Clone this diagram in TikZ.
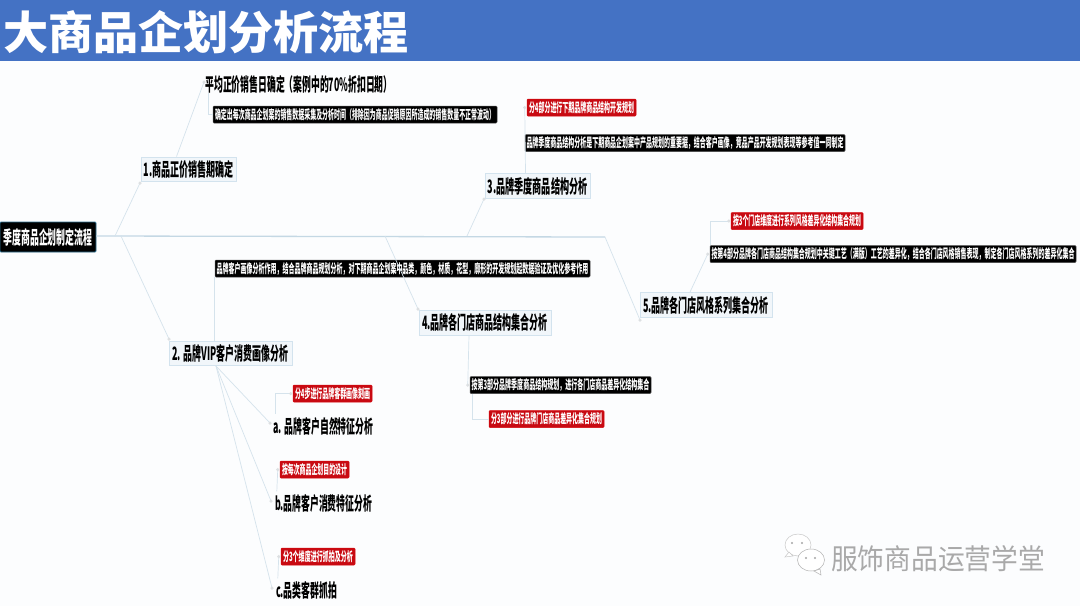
\documentclass[tikz,border=0pt]{standalone}
\usepackage{fontspec}
\usepackage{graphicx}
\setmainfont{Noto Sans CJK SC}
\definecolor{bandblue}{HTML}{4472C4}
\definecolor{pagebg}{HTML}{FCFDFE}
\definecolor{linkc}{HTML}{D5E3EC}
\definecolor{mainlink}{HTML}{C4D8E4}
\definecolor{topicfill}{HTML}{F1F6FA}
\definecolor{topicline}{HTML}{D3E3EE}
\definecolor{redfill}{HTML}{C80A12}
\definecolor{rootline}{HTML}{2F6F8F}
\definecolor{handle}{HTML}{DDE0E2}
\definecolor{markc}{HTML}{A9A9A9}
\newcommand{\fitbox}[3]{\resizebox{#1pt}{#2pt}{\bfseries #3}}
\tikzset{
  x=1pt,y=-1pt,
  lnk/.style={draw=linkc,line width=0.7pt},
  mainlnk/.style={draw=mainlink,line width=1.3pt},
  topic/.style={draw=topicline,fill=topicfill,line width=0.8pt,inner sep=0pt,text=black,anchor=center},
  blk/.style={draw=black!70,fill=black,rounded corners=1pt,line width=0.5pt,inner sep=0pt,text=white,anchor=center},
  red/.style={draw=red!25!redfill,fill=redfill,rounded corners=1pt,line width=0.5pt,inner sep=0pt,text=white,anchor=center},
  plain/.style={inner sep=0pt,text=black,anchor=center},
  hnd/.style={circle,fill=handle,inner sep=0pt,minimum size=3.5pt},
}
\begin{document}
\begin{tikzpicture}
\useasboundingbox (0,0) rectangle (1080,606);
\fill[pagebg] (0,0) rectangle (1080,606);
\fill[bandblue] (0,0) rectangle (1080,61);
\node[inner sep=0pt,text=white,anchor=center] (title) at (206,32) {\fitbox{406}{39}{大商品企划分析流程}};

% junctions
\coordinate (j1) at (115,236);
\coordinate (j2) at (121,236);
\coordinate (j3) at (385,236);
\coordinate (j4) at (467,236);
\coordinate (j5) at (605,237);
\coordinate (h1) at (140,183);
\coordinate (h2) at (169,339);
\coordinate (h3) at (484,199);
\coordinate (h4) at (418,309);
\coordinate (h5) at (640,320);
\coordinate (h6) at (204,82);
\coordinate (h7) at (270,423);
\coordinate (h8) at (271,501);
\coordinate (h9) at (272,588);
\coordinate (s2) at (216,366);

% nodes
\node[blk,draw=rootline,line width=0.8pt,minimum width=96,minimum height=30] (root) at (48,237) {\fitbox{89}{16}{季度商品企划制定流程}};
\node[topic,minimum width=95,minimum height=24] (n1) at (188.5,169) {\fitbox{90}{16}{1.商品正价销售期确定}};
\node[topic,minimum width=123,minimum height=24] (n2) at (230.5,353.5) {\fitbox{116}{16}{2. 品牌VIP客户消费画像分析}};
\node[topic,minimum width=105,minimum height=25] (n3) at (537.5,186) {\fitbox{100}{16}{3.品牌季度商品结构分析}};
\node[topic,minimum width=132,minimum height=25] (n4) at (485,322.5) {\fitbox{126}{16}{4.品牌各门店商品结构集合分析}};
\node[topic,minimum width=132,minimum height=25] (n5) at (706,305) {\fitbox{126}{16}{5.品牌各门店风格系列集合分析}};

\node[plain] (avg) at (299,84) {\fitbox{187}{16}{平均正价销售日确定（案例中的70\%折扣日期）}};
\node[blk,minimum width=284,minimum height=17] (b1) at (355,114.5) {\fitbox{280}{11}{确定出每次商品企划案的销售数据采集及分析时间（排除因为商品促销原因所造成的销售数量不正常波动）}};
\node[blk,minimum width=375,minimum height=17] (b2) at (402.5,268.5) {\fitbox{372}{11}{品牌客户画像分析作用，结合品牌商品规划分析，对下期商品企划案中品类，颜色，材质，花型，廓形的开发规划起数据验证及优化参考作用}};
\node[blk,minimum width=320,minimum height=17] (b3) at (685,143) {\fitbox{317}{11}{品牌季度商品结构分析是下期商品企划案中产品规划的重要据，结合客户画像，竞品产品开发规划表现等参考值一同制定}};
\node[blk,minimum width=181,minimum height=17] (b4) at (560.5,385) {\fitbox{178}{11}{按第3部分品牌季度商品结构规划，进行各门店商品差异化结构集合}};
\node[blk,minimum width=366,minimum height=17] (b5) at (893,254) {\fitbox{363}{11}{按第4部分品牌各门店商品结构集合规划中关键工艺（满版）工艺的差异化，结合各门店风格销售表现，制定各门店风格系列的差异化集合}};

\node[red,minimum width=109,minimum height=17] (r3) at (581.5,107.5) {\fitbox{105}{11}{分4部分进行下期品牌商品结构开发规划}};
\node[red,minimum width=115,minimum height=17] (r4) at (546.5,419) {\fitbox{111}{11}{分3部分进行品牌门店商品差异化集合规划}};
\node[red,minimum width=132,minimum height=17] (r5) at (797,221) {\fitbox{128}{11}{按3个门店维度进行系列风格差异化结构集合规划}};
\node[red,minimum width=79,minimum height=17] (ra) at (332.5,393.5) {\fitbox{75}{11}{分4步进行品牌客群画像刻画}};
\node[red,minimum width=69,minimum height=17] (rb) at (314.5,469.5) {\fitbox{65}{11}{按每次商品企划目的设计}};
\node[red,minimum width=74,minimum height=17] (rc) at (318,556.5) {\fitbox{70}{11}{分3个维度进行抓拍及分析}};

\node[plain] (ta) at (323.5,426) {\fitbox{100}{16}{a. 品牌客户自然特征分析}};
\node[plain] (tb) at (323.5,503.5) {\fitbox{97}{16}{b.品牌客户消费特征分析}};
\node[plain] (tc) at (306.5,590.5) {\fitbox{61}{16}{c.品类客群抓拍}};

% connector end points beside the boxes
\coordinate (p3) at ([xshift=-2pt]r3.west);
\coordinate (p4) at ([xshift=-2pt]b4.west);
\coordinate (p5) at ([xshift=-2pt]b5.west);
\coordinate (p6) at ([xshift=-2pt]r5.west);
\coordinate (pa) at ([xshift=-2pt]ra.west);
\coordinate (pb) at ([xshift=-2pt]rb.west);
\coordinate (pc) at ([xshift=-2pt]rc.west);

% connectors
\draw[mainlnk] (root.east |- j1) -- (j5);
\draw[lnk] (j5) -- (h5);
\draw[lnk] (j1) -- (h1);
\draw[lnk] (j2) -- (h2);
\draw[lnk] (j3) -- (h4);
\draw[lnk] (j4) -- (h3);
\draw[lnk] ([xshift=-12pt]n1.north) -- (h6);
\draw[lnk] ([xshift=3pt]avg.south west) |- (b1.west);
\draw[lnk] (b2.south west) -- (n2.north west -| b2.south west);
\draw[lnk] (s2) -- (h7);
\draw[lnk] (s2) -- (h8);
\draw[lnk] (s2) -- (h9);
\draw[lnk] ([shift={(2pt,3pt)}]ta.north west) |- (pa);
\draw[lnk] ([shift={(2pt,3pt)}]tb.north west) -- (pb);
\draw[lnk] ([shift={(2pt,3pt)}]tc.north west) -- (pc);
\draw[lnk] ([xshift=-16pt]n4.south) -- (p4);
\draw[lnk] ([xshift=3pt]b4.south west) |- (r4.west);
\draw[lnk] ([xshift=-12pt]n3.north) -- (p3);
\draw[lnk] ([xshift=-16pt]n5.north) -- (p5);
\draw[lnk] ([xshift=1pt]b5.north west) |- (p6);

% handles
\foreach \p in {h1,h2,h3,h4,h5,h6,h7,h8,h9,p3,p4,p5,p6,pa,pb,pc}{\node[hnd] at (\p) {};}

% watermark
\fill[white,draw=black!22,line width=0.5pt] (798,545) ellipse (13 and 11);
\fill[white,draw=black!22,line width=0.5pt] (785,557) -- (789,552) -- (793,556) -- cycle;
\fill[white,draw=black!30,line width=0.5pt] (811,560) ellipse (13.5 and 11);
\fill[white,draw=black!30,line width=0.5pt] (820,569) -- (821,575) -- (814,571) -- cycle;
\fill[black!35] (792,543) circle (1.1) (802,543) circle (1.1) (806,558) circle (1.1) (815,558) circle (1.1);
\node[inner sep=0pt,text=markc,anchor=center] (mark) at (938,558.5) {\resizebox{214pt}{24pt}{服饰商品运营学堂}};
\end{tikzpicture}
\end{document}
